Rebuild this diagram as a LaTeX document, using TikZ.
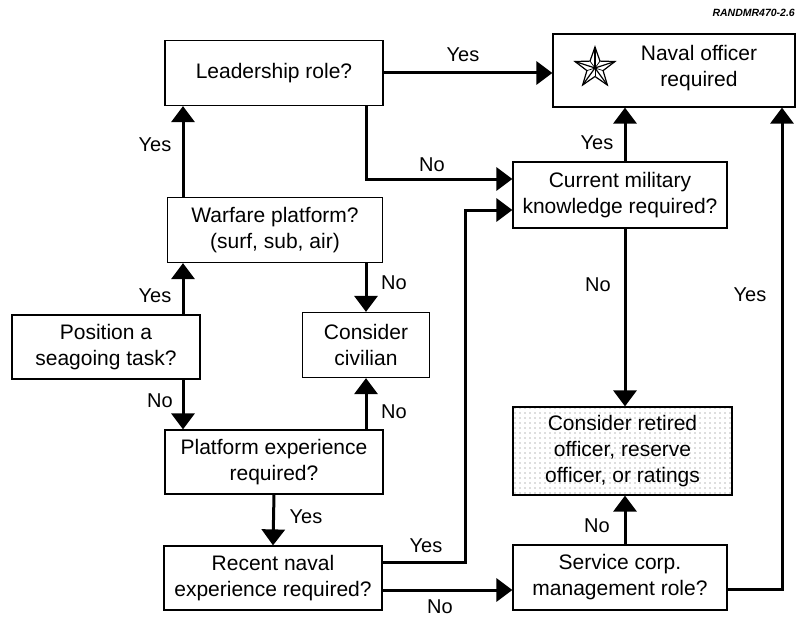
\documentclass[tikz,border=0pt]{standalone}
\usepackage{fontspec}
\setmainfont{Liberation Sans}
\usetikzlibrary{arrows.meta,patterns.meta,calc}
\begin{document}
\begin{tikzpicture}[x=1pt,y=-1pt,
  box/.style={draw, line width=1.2pt, fill=white, align=center, inner sep=0pt,
    font=\fontsize{21}{26}\selectfont},
  arr/.style={line width=3pt, -{Triangle[width=23pt,length=16pt]}},
  lbl/.style={font=\fontsize{20}{24}\selectfont, inner sep=0pt}]
\useasboundingbox (0,0) rectangle (796,618);

% decision and outcome boxes
\node[box, minimum width=218pt, minimum height=65pt] (lead) at (274,73) {Leadership role?};
\node[box, minimum width=242pt, minimum height=73pt] (naval) at (674,70.5) {};
\node[font=\fontsize{21}{26}\selectfont, align=center, inner sep=0pt] (navaltxt) at (699,68) {Naval officer\\required};
\node[box, minimum width=214pt, minimum height=66pt] (curr) at (620,195) {Current military\\knowledge required?};
\node[box, minimum width=215pt, minimum height=65pt] (warf) at (275,230) {Warfare platform?\\(surf, sub, air)};
\node[box, minimum width=188pt, minimum height=64pt] (pos) at (106,347) {Position a\\seagoing task?};
\node[box, minimum width=127pt, minimum height=65pt] (civ) at (366,345) {Consider\\civilian};
\node[box, minimum width=218pt, minimum height=64pt] (plat) at (274,462) {Platform experience\\required?};
\node[box, minimum width=218pt, minimum height=64pt] (rec) at (273,578) {Recent naval\\experience required?};
\node[box, minimum width=214pt, minimum height=65pt] (serv) at (620,577.5) {Service corp.\\management role?};
\node[box, minimum width=219pt, minimum height=88pt,
  preaction={fill=white}, pattern={Dots[distance=5pt,radius=0.6pt]}, pattern color=black!55]
  (ret) at (622.5,451) {Consider retired\\officer, reserve\\officer, or ratings};

% star emblem in the officer box
\begin{scope}[shift={(595,68)}, line width=1.2pt, line join=miter]
  \draw (270:21) -- (306:8.5) -- (342:21) -- (18:8.5) -- (54:21) -- (90:8.5)
        -- (126:21) -- (162:8.5) -- (198:21) -- (234:8.5) -- cycle;
  \foreach \a in {270,342,54,126,198} {\draw (0,0) -- (\a:21);}
  \foreach \a in {306,18,90,162,234} {\draw[line width=0.7pt] (0,0) -- (\a:8.5);}
\end{scope}

% report tag
\node[font=\bfseries\itshape\fontsize{10.5}{12}\selectfont, anchor=east, inner sep=0pt] (tag) at (795,13) {RANDMR470-2.6};

% connectors
\draw[arr] (lead.east) -- (lead.east -| naval.west);
\draw[arr] ([xshift=92pt]lead.south) |- ([yshift=16pt]curr.west);
\draw[arr] ([xshift=-92pt]warf.north) -- ([xshift=-92pt]warf.north |- lead.south);
\draw[arr] ([yshift=16pt]rec.east) -- ++(83,0) |- ([yshift=-15pt]curr.west);
\draw[arr] ([yshift=-12pt]rec.east) -- ([yshift=-12pt]rec.east -| serv.west);
\draw[arr] ([xshift=5pt]curr.south) -- ([xshift=5pt]curr.south |- ret.north);
\draw[arr] ([xshift=5pt]curr.north) -- ([xshift=5pt]curr.north |- naval.south);
\draw[arr] ([xshift=5pt]serv.north) -- ([xshift=5pt]serv.north |- ret.south);
\draw[arr] ([yshift=-12pt]serv.east) -| ([xshift=108pt]naval.south);
\draw[arr] ([xshift=77pt]pos.north) -- ([xshift=77pt]pos.north |- warf.south);
\draw[arr] ([xshift=77pt]pos.south) -- ([xshift=77pt]pos.south |- plat.north);
\draw[arr] (warf.south -| civ.north) -- (civ.north);
\draw[arr] (plat.north -| civ.south) -- (civ.south);
\draw[arr] (plat.south) -- (rec.north);

% branch labels
\node[lbl] (l1) at (463,55) {Yes};
\node[lbl] (l2) at (432,165) {No};
\node[lbl] (l3) at (155,145) {Yes};
\node[lbl] (l4) at (426,546) {Yes};
\node[lbl] (l5) at (440,607) {No};
\node[lbl] (l6) at (598,285) {No};
\node[lbl] (l7) at (597,143) {Yes};
\node[lbl] (l8) at (597,526) {No};
\node[lbl] (l9) at (750,295) {Yes};
\node[lbl] (l10) at (155,296) {Yes};
\node[lbl] (l11) at (160,401) {No};
\node[lbl] (l12) at (394,283) {No};
\node[lbl] (l13) at (394,412) {No};
\node[lbl] (l14) at (306,517) {Yes};
\end{tikzpicture}
\end{document}
